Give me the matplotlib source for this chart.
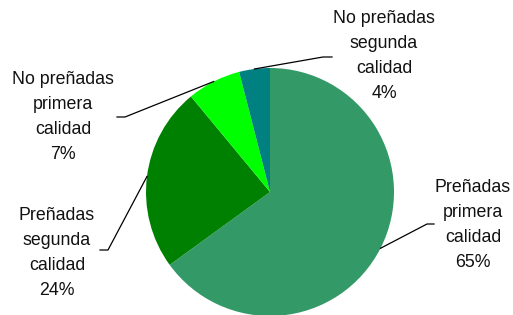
import numpy as np
import matplotlib
matplotlib.use("Agg")
import matplotlib.pyplot as plt

categories = ["Preñadas primera calidad", "Preñadas segunda calidad",
              "No preñadas primera calidad", "No preñadas segunda calidad"]
label_text = ["Preñadas\nprimera\ncalidad", "Preñadas\nsegunda\ncalidad",
              "No preñadas\nprimera\ncalidad", "No preñadas\nsegunda\ncalidad"]
values = [65, 24, 7, 4]
colors = ["#339966", "#008000", "#00FF00", "#008080"]

W, H = 513, 315
fig = plt.figure(figsize=(W / 100, H / 100), dpi=100)
cx, cy, r = 270, 192, 124
ax = fig.add_axes([(cx - r) / W, (H - cy - r) / H, 2 * r / W, 2 * r / H])
wedges, _ = ax.pie(values, colors=colors, startangle=90, counterclock=False,
                   radius=1, wedgeprops=dict(linewidth=0))
ax.set_xlim(-1, 1)
ax.set_ylim(-1, 1)
ax.set_aspect("equal")
ax.axis("off")

def px(x, y):
    return (x / W, 1 - y / H)

# layout (pixel positions): elbow, stub end, text center
elbows = [(427, 224), (108, 250), (125, 117), (323, 57)]
stubs = [(434, 224), (100, 250), (117, 117), (332, 57)]
text_pos = [(473, 225), (57, 253), (63, 117), (384, 56)]

for w, v, lab, e, s, t in zip(wedges, values, label_text, elbows, stubs, text_pos):
    ang = np.deg2rad((w.theta1 + w.theta2) / 2)
    sx = cx + r * np.cos(ang)
    sy = cy - r * np.sin(ang)
    xs = [sx, e[0], s[0]]
    ys = [sy, e[1], s[1]]
    fig.add_artist(plt.Line2D([x / W for x in xs], [1 - y / H for y in ys],
                              color="black", linewidth=0.9,
                              transform=fig.transFigure))
    fig.text(*px(*t), f"{lab}\n{v}%", ha="center", va="center",
             multialignment="center", fontsize=12.8, family="Liberation Sans",
             linespacing=1.62, color="#111111")

fig.savefig("out.png", dpi=100)
